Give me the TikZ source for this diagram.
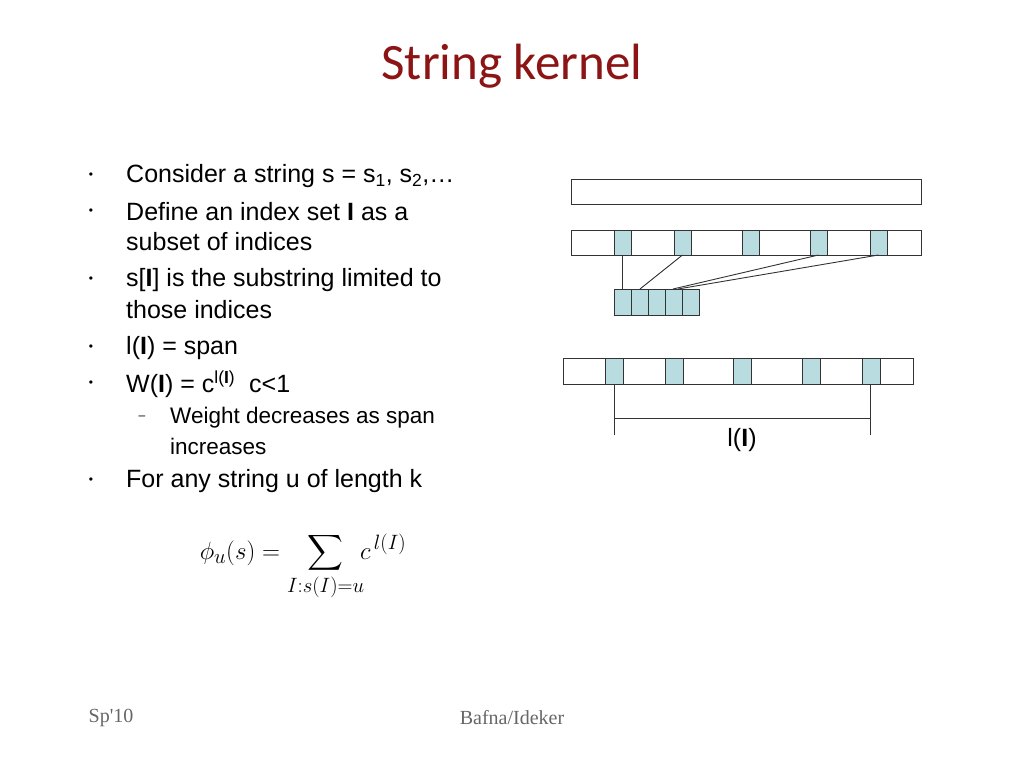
\documentclass[tikz,border=0pt]{standalone}
\usepackage{fontspec}
\setmainfont{Liberation Sans}
\newfontfamily\titlefont{Carlito}
\newfontfamily\timesfont{Liberation Serif}
\usepackage{amsmath}
\definecolor{cellblue}{RGB}{184,220,224}
\definecolor{titlered}{RGB}{140,20,20}
\begin{document}
\begin{tikzpicture}[x=1pt,y=-1pt,
  bar/.style={draw=black!80,line width=0.9pt,fill=white},
  cell/.style={draw=black!80,line width=0.9pt,fill=cellblue},
  ln/.style={draw=black!80,line width=0.9pt},
  txt/.style={anchor=west,inner sep=0pt,font=\fontsize{25}{30}\selectfont},
  subtxt/.style={anchor=west,inner sep=0pt,font=\fontsize{22.5}{27}\selectfont},
  bul/.style={inner sep=0pt,font=\fontsize{12}{14}\selectfont}]
\useasboundingbox (0,0) rectangle (1024,768);
\node[font=\titlefont\fontsize{51}{58}\selectfont,text=titlered] (title) at (512,66) {String kernel};
% bullets
\foreach \y/\n in {176/b1,212/b2,280/b3,348/b4,384/b5,481/b6}{\node[bul] (\n) at (91,\y) {\textbullet};}
\node[txt] (t1) at (126,176) {Consider a string s = s$_{\text{1}}$, s$_{\text{2}}$,\dots};
\node[txt] (t2) at (126,212) {Define an index set \textbf{I} as a};
\node[txt] (t2b) at (126,242) {subset of indices};
\node[txt] (t3) at (126,280) {s[\textbf{I}] is the substring limited to};
\node[txt] (t3b) at (126,310) {those indices};
\node[txt] (t4) at (126,348) {l(\textbf{I}) = span};
\node[txt] (t5) at (126,384) {W(\textbf{I}) = c$^{\text{l(\textbf{I})}}$\ \ c<1};
\node[bul] (d1) at (142,418) {--};
\node[subtxt] (s1) at (170,418) {Weight decreases as span};
\node[subtxt] (s1b) at (170,446) {increases};
\node[txt] (t6) at (126,481) {For any string u of length k};
% formula
\node[inner sep=0pt,font=\fontsize{29}{34}\selectfont] (f) at (303,567) {$\displaystyle \phi_u(s)= \sum_{I:s(I)=u}\!\! c^{\,l(I)}$};
% footer
\node[font=\timesfont\fontsize{20}{24}\selectfont,text=black!60] (fl) at (111,718) {Sp'10};
\node[font=\timesfont\fontsize{20}{24}\selectfont,text=black!60] (fr) at (512,718) {Bafna/Ideker};
% row 1
\path[bar] (571,179) rectangle (921,204);
% row 2
\path[bar] (571,230) rectangle (921,255);
\foreach \x/\n in {614/a1,674/a2,742/a3,810/a4,870/a5}{\path[cell] (\x,230) rectangle ++(17,25); \coordinate (\n) at (\x+8.5,255);}
% small row
\foreach \i in {0,...,4}{\path[cell] (614+17*\i,289) rectangle ++(17,26);}
\coordinate (c1) at (622.5,289); \coordinate (c2) at (640,289);
\coordinate (c3) at (673,289); \coordinate (c4) at (678,289);
\draw[ln] (a1)--(c1); \draw[ln] (a2)--(c2); \draw[ln] (a4)--(c3); \draw[ln] (a5)--(c4);
% row 3
\path[bar] (563,358) rectangle (913,384);
\foreach \x in {605,665,733,802,862}{\path[cell] (\x,358) rectangle ++(18,26);}
\coordinate (p1) at (614,384); \coordinate (p2) at (870,384);
\coordinate (q1) at (614,435); \coordinate (q2) at (870,435);
\draw[ln] (p1)--(q1); \draw[ln] (p2)--(q2);
\draw[ln] (614,418)--(870,418);
\node[inner sep=0pt,font=\fontsize{25}{30}\selectfont] (lI) at (742,440) {l(\textbf{I})};
\end{tikzpicture}
\end{document}
